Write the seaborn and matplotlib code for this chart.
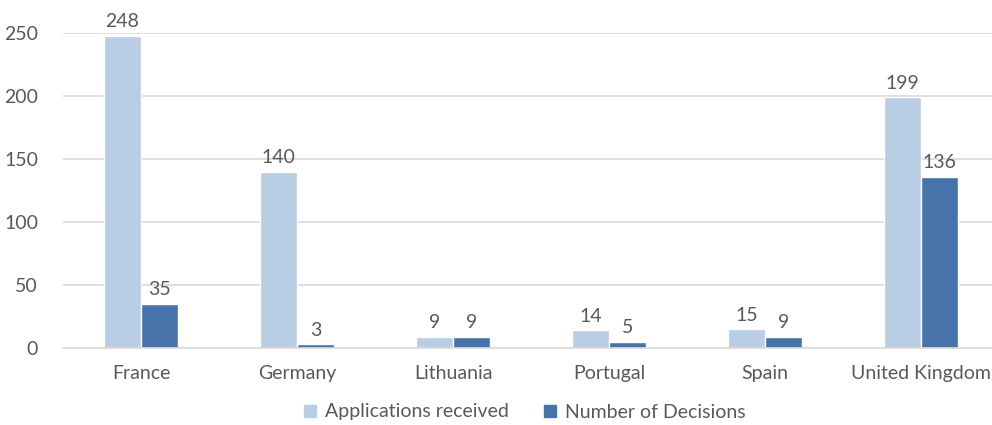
import pandas as pd
import matplotlib
matplotlib.use("Agg")
import matplotlib.pyplot as plt
import seaborn as sns
from matplotlib.lines import Line2D

# data
countries = ["France", "Germany", "Lithuania", "Portugal", "Spain", "United Kingdom"]
applications = [248, 140, 9, 14, 15, 199]
decisions = [35, 3, 9, 5, 9, 136]
series = ["Applications received", "Number of Decisions"]
colors = ["#B9CDE5", "#4674AA"]
text_color = "#595959"

df = pd.DataFrame(
    {
        "country": countries * 2,
        "value": applications + decisions,
        "series": [series[0]] * len(countries) + [series[1]] * len(countries),
    }
)

sns.set_style("white")
plt.rcParams["font.family"] = ["Lato", "DejaVu Sans"]
fs = 14

fig = plt.figure(figsize=(9.92, 4.25), dpi=100)
ax = fig.add_axes([63 / 992, 77 / 425, 936 / 992, 315 / 425])

sns.barplot(
    data=df,
    x="country",
    y="value",
    hue="series",
    palette=colors,
    width=0.474,
    ax=ax,
    legend=False,
    saturation=1,
)

for cont in ax.containers:
    ax.bar_label(cont, padding=4, fontsize=fs, color=text_color, clip_on=False)

ax.set_ylim(0, 250)
ax.set_xlim(-0.5, 5.5)
ax.set_yticks([0, 50, 100, 150, 200, 250])
ax.yaxis.grid(True, color="#D9D9D9", linewidth=1.2)
ax.set_axisbelow(True)
for side in ["top", "right", "left"]:
    ax.spines[side].set_visible(False)
ax.spines["bottom"].set_color("#D9D9D9")
ax.spines["bottom"].set_linewidth(1.2)
ax.tick_params(axis="both", length=0, labelsize=fs, labelcolor=text_color)
ax.tick_params(axis="x", pad=12)
ax.tick_params(axis="y", pad=18)
ax.set_xlabel("")
ax.set_ylabel("")

handles = [
    Line2D([], [], marker="s", linestyle="", markersize=9, color=c) for c in colors
]
fig.legend(
    handles,
    series,
    loc="center",
    bbox_to_anchor=(518 / 992, 1 - 412 / 425),
    ncol=2,
    frameon=False,
    fontsize=fs,
    labelcolor=text_color,
    handletextpad=-0.2,
    columnspacing=1.1,
)

fig.savefig("out.png", dpi=100)
